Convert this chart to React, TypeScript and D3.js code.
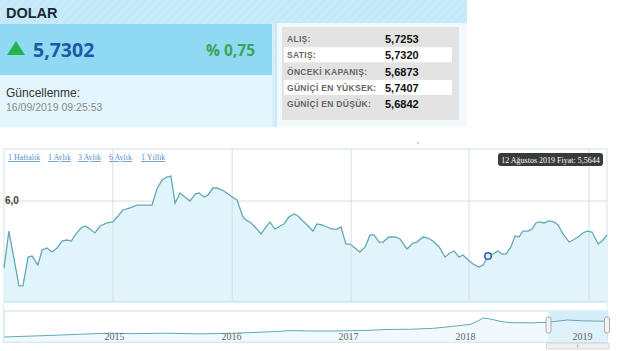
import React from "react";
import * as d3 from "d3";

// ---- Header data ----
const currencyName = "DOLAR";
const currentPrice = "5,7302";
const changePct = "% 0,75";
const updatedLabel = "Güncellenme:";
const updatedAt = "16/09/2019 09:25:53";
const infoLabels = ["ALIŞ:", "SATIŞ:", "ÖNCEKİ KAPANIŞ:", "GÜNİÇİ EN YÜKSEK:", "GÜNİÇİ EN DÜŞÜK:"];
const infoValues = ["5,7253", "5,7320", "5,6873", "5,7407", "5,6842"];

// ---- Range buttons ----
const rangeButtons = ["1 Haftalık", "1 Aylık", "3 Aylık", "6 Aylık", "1 Yıllık"];

// ---- Main series (day offset within the 6-month window, price) ----
const mainDays = [
  0, 1.5, 4.6, 5.8, 7.4, 8.6, 10.4, 11.7, 13.2, 14.7, 16.3, 17.8, 19.3, 20.6, 22.1, 23.6, 24.9, 26.4, 27.9, 29.5,
  31.6, 33.4, 35.0, 36.5, 38.7, 40.8, 45.4, 46.9, 48.5, 50.0, 51.2, 52.5, 54.0, 55.5, 57.1, 58.6, 59.8, 61.4, 62.6,
  64.1, 65.3, 66.9, 68.4, 70.0, 71.5, 73.3, 74.6, 75.5, 77.0, 78.9, 80.1, 81.6, 83.1, 84.7, 85.9, 87.4, 89.0, 90.2,
  91.7, 93.0, 94.8, 96.0, 97.6, 99.1, 100.6, 102.2, 103.4, 104.9, 106.2, 107.7, 109.2, 110.8, 112.3, 113.5, 115.1,
  116.3, 118.1, 120.0, 121.5, 123.6, 125.5, 126.7, 128.5, 130.1, 131.6, 133.5, 135.3, 136.8, 138.1, 139.6, 140.8,
  142.4, 143.9, 145.7, 147.0, 148.5, 150.0, 151.5, 152.8, 154.0, 155.5, 156.8, 158.0, 159.2, 160.8, 162.0, 163.2,
  164.1, 165.7, 167.2, 168.7, 170.0, 171.5, 173.4, 174.6, 176.1, 177.6, 178.9, 180.4, 182.3, 183.8, 185,
];
const mainValues = [
  5.469, 5.762, 5.327, 5.327, 5.556, 5.564, 5.493, 5.612, 5.628, 5.596, 5.628, 5.683, 5.691, 5.683, 5.739, 5.786,
  5.802, 5.778, 5.747, 5.802, 5.826, 5.834, 5.881, 5.929, 5.945, 5.968, 5.968, 6.095, 6.166, 6.19, 6.198, 5.984,
  6.063, 6.032, 6.0, 6.055, 6.063, 6.032, 6.048, 6.103, 6.103, 6.087, 6.063, 6.032, 6.008, 5.873, 5.842, 5.834,
  5.794, 5.739, 5.786, 5.834, 5.778, 5.802, 5.818, 5.873, 5.897, 5.881, 5.842, 5.81, 5.762, 5.818, 5.81, 5.794,
  5.778, 5.778, 5.794, 5.659, 5.659, 5.628, 5.596, 5.636, 5.731, 5.731, 5.675, 5.675, 5.715, 5.715, 5.699, 5.62,
  5.667, 5.675, 5.715, 5.707, 5.683, 5.636, 5.556, 5.588, 5.604, 5.556, 5.572, 5.533, 5.501, 5.477, 5.493, 5.5644,
  5.58, 5.604, 5.58, 5.58, 5.636, 5.723, 5.715, 5.762, 5.762, 5.778, 5.826, 5.834, 5.826, 5.842, 5.834, 5.81,
  5.739, 5.675, 5.691, 5.715, 5.747, 5.762, 5.754, 5.659, 5.691, 5.731,
];
const mainDomainDays = [0, 185];
const mainDomainValues = [5.2, 6.412];
const mainYTicks = [6.0];
const mainYTickLabels = ["6,0"];
const mainGridDays = [33.4, 70, 106.5, 142.7, 179.5];
const tooltipIndex = 95;
const tooltipText = "12 Ağustos 2019 Fiyat: 5,5644";

// ---- Navigator series (decimal year, price) ----
const navYears = [
  2014.56, 2014.8, 2015.01, 2015.23, 2015.46, 2015.66, 2015.95, 2016.23, 2016.51, 2016.72, 2016.89, 2017.0, 2017.17,
  2017.37, 2017.66, 2017.83, 2018.03, 2018.22, 2018.37, 2018.54, 2018.6, 2018.65, 2018.71, 2018.8, 2018.88, 2019.08,
  2019.21, 2019.37, 2019.51, 2019.65, 2019.71,
];
const navValues = [
  2.14, 2.36, 2.55, 2.8, 3.0, 2.9, 3.0, 2.85, 3.0, 3.2, 3.4, 3.6, 3.5, 3.5, 3.65, 3.85, 3.9, 4.1, 4.5, 5.0, 5.7, 6.45,
  6.25, 5.7, 5.4, 5.35, 5.5, 6.0, 5.8, 5.75, 5.73,
];
const navDomainYears = [2014.556, 2019.71];
const navDomainValues = [1.0, 8.05];
const navYearLabels = ["2015", "2016", "2017", "2018", "2019"];
const navYearStarts = [2015, 2016, 2017, 2018, 2019];
const navSelection = [2019.21, 2019.71];

const SANS = "'Liberation Sans', Arial, sans-serif";
const OPEN = "'Open Sans', 'Noto Sans', sans-serif";
const SERIF = "'Liberation Serif', 'Times New Roman', serif";

export default function App() {
  const L = 4, R = 607, T = 149, B = 302;
  const x = d3.scaleLinear().domain(mainDomainDays).range([L, R]);
  const y = d3.scaleLinear().domain(mainDomainValues).range([B, T]);
  const pts = mainDays.map((d, i) => [d, mainValues[i]] as [number, number]);
  const line = d3.line<[number, number]>().x((p) => x(p[0])).y((p) => y(p[1]));
  const area = d3
    .area<[number, number]>()
    .x((p) => x(p[0]))
    .y0(B)
    .y1((p) => y(p[1]));

  const NT = 311, NB = 342;
  const nx = d3.scaleLinear().domain(navDomainYears).range([L, R]);
  const ny = d3.scaleLinear().domain(navDomainValues).range([NB, NT]);
  const npts = navYears.map((d, i) => [d, navValues[i]] as [number, number]);
  const nline = d3.line<[number, number]>().x((p) => nx(p[0])).y((p) => ny(p[1]));
  const narea = d3
    .area<[number, number]>()
    .x((p) => nx(p[0]))
    .y0(NB)
    .y1((p) => ny(p[1]));

  const rangeX = [8, 48, 78, 109, 141];
  const tip = pts[tooltipIndex];
  const selX0 = nx(navSelection[0]);
  const selX1 = nx(navSelection[1]);

  return (
    <svg
      width={620}
      height={351}
      style={{ position: "absolute", left: 0, top: 0, background: "#fff" }}
    >
      <defs>
        <pattern id="stripes" width="6" height="6" patternUnits="userSpaceOnUse" patternTransform="rotate(45)">
          <rect width="6" height="6" fill="#c9ebf9" />
          <rect width="3" height="6" fill="#c3e8f8" />
        </pattern>
      </defs>

      {/* Header */}
      <rect x={0} y={0} width={467} height={127} fill="url(#stripes)" />
      <text x={6} y={18} fontFamily={SANS} fontWeight="bold" fontSize={14.5} fill="#1c2a36">
        {currencyName}
      </text>
      <rect x={0} y={24} width={272} height={51} fill="#8fd9f4" />
      <path d="M7,55 L16,41 L25,55 Z" fill="#27b34a" />
      <text x={33} y={57} fontFamily={OPEN} fontWeight="bold" fontSize={19.5} fill="#1d5aa5">
        {currentPrice}
      </text>
      <text x={255} y={56} textAnchor="end" fontFamily={OPEN} fontWeight="bold" fontSize={15.5} fill="#3aa655">
        {changePct}
      </text>
      <rect x={0} y={75} width={272} height={52} fill="#e4f6fd" />
      <text x={6} y={97} fontFamily={SANS} fontSize={12} fill="#333">
        {updatedLabel}
      </text>
      <text x={6} y={111} fontFamily={SANS} fontSize={10.5} fill="#8a8a8a">
        {updatedAt}
      </text>
      <rect x={272} y={24} width={3} height={103} fill="#d8eef7" />

      {/* Info panel */}
      <rect x={277} y={23} width={190} height={104} fill="#f1f9fc" />
      <rect x={282} y={27} width={177} height={93} fill="#e3e3e3" />
      {infoLabels.map((lab, i) => {
        const cy = 39 + i * 16.3;
        return (
          <g key={lab}>
            {i % 2 === 1 && <rect x={284} y={cy - 8} width={168} height={15} fill="#ffffff" />}
            <text x={287} y={cy + 3} fontFamily={SANS} fontSize={8.5} fontWeight="bold" fill="#666" letterSpacing={0.3}>
              {lab}
            </text>
            <text x={385} y={cy + 4} fontFamily={SANS} fontSize={11} fontWeight="bold" fill="#111">
              {infoValues[i]}
            </text>
          </g>
        );
      })}

      {/* Main chart frame */}
      <rect x={L} y={T} width={R - L} height={NB - T} fill="#fff" stroke="#cfe3ea" strokeWidth={1} />
      {mainYTicks.map((v) => (
        <line key={v} x1={L} x2={R} y1={y(v)} y2={y(v)} stroke="#dcdcdc" strokeWidth={1} />
      ))}
      <path d={area(pts) || ""} fill="#e2f4fb" />
      {mainGridDays.map((d) => (
        <line key={d} x1={x(d)} x2={x(d)} y1={T} y2={B} stroke="#d3e0e4" strokeWidth={1} />
      ))}
      {mainYTicks.map((v, i) => (
        <text key={v} x={5} y={y(v) + 3} fontFamily={SANS} fontWeight="bold" fontSize={10} fill="#444">
          {mainYTickLabels[i]}
        </text>
      ))}
      <path d={line(pts) || ""} fill="none" stroke="#62a9b6" strokeWidth={1.3} />
      <circle cx={x(tip[0])} cy={y(tip[1])} r={3.3} fill="#d8eef8" stroke="#2e5f9e" strokeWidth={1.5} />
      <line x1={L} x2={R} y1={B} y2={B} stroke="#bcd9e4" strokeWidth={1} />

      {rangeButtons.map((b, i) => (
        <text
          key={b}
          x={rangeX[i]}
          y={160}
          fontFamily={SERIF}
          fontSize={8}
          fill="#5b8fc9"
          textDecoration="underline"
        >
          {b}
        </text>
      ))}

      {/* Tooltip */}
      <rect x={498} y={153} width={105} height={13} rx={3} fill="#3a3a3a" />
      <text x={550.5} y={162.5} textAnchor="middle" fontFamily={SERIF} fontSize={8} fill="#fff">
        {tooltipText}
      </text>
      <circle cx={418} cy={143} r={0.7} fill="#888" />

      {/* Navigator */}
      <rect x={L} y={B + 1} width={R - L} height={NT - B - 2} fill="#fff" />
      <rect x={L} y={NT} width={R - L} height={NB - NT} fill="#fff" stroke="#cbe2ea" strokeWidth={1} />
      <rect x={selX0} y={NT} width={selX1 - selX0} height={NB - NT} fill="#d5eefa" />
      <path d={narea(npts) || ""} fill="#e6f5fb" opacity={0.6} />
      <path d={nline(npts) || ""} fill="none" stroke="#62a9b6" strokeWidth={1} />
      {navYearLabels.map((lab, i) => (
        <text
          key={lab}
          x={nx(navYearStarts[i] + 0.5)}
          y={340}
          textAnchor="middle"
          fontFamily={SERIF}
          fontSize={10}
          fill="#666"
        >
          {lab}
        </text>
      ))}
      {[selX0, selX1].map((hx, i) => (
        <rect key={i} x={hx - 2.5} y={317} width={5} height={16} rx={2} fill="#f2f2f2" stroke="#999" strokeWidth={0.8} />
      ))}
      <rect x={selX0 - 2} y={343} width={selX1 - selX0 + 4} height={6} rx={1} fill="#f0f0f0" stroke="#ccc" strokeWidth={0.8} />
      <line x1={(selX0 + selX1) / 2} x2={(selX0 + selX1) / 2} y1={344.5} y2={347.5} stroke="#999" strokeWidth={0.8} />
    </svg>
  );
}
